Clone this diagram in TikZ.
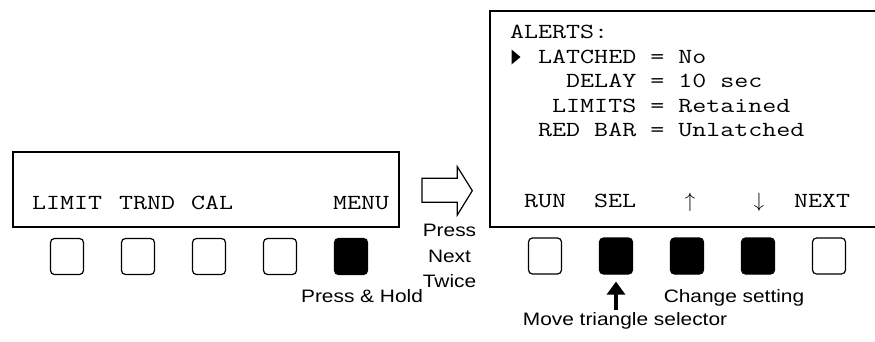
\documentclass[tikz,border=0pt]{standalone}
\usepackage{fontspec}
\setmainfont{Liberation Sans}
\setmonofont{Latin Modern Mono}[FakeStretch=1.265]
\newfontfamily\notefont[FakeStretch=1.16]{Liberation Sans}
\usetikzlibrary{arrows.meta}

\tikzset{
  lcd/.style={line width=2pt},
  key/.style={draw, line width=1.2pt, rounded corners=4pt, minimum width=33pt, minimum height=36pt, inner sep=0pt},
  keyon/.style={key, fill=black},
  lcdtext/.style={font=\fontsize{21.5}{24}\selectfont\ttfamily, inner sep=0pt, anchor=base west},
  note/.style={font=\fontsize{18}{25.5}\selectfont\notefont, inner sep=0pt, align=center},
}

\begin{document}
\begin{tikzpicture}[x=1pt, y=-1pt]
    \useasboundingbox (0,0) rectangle (875,341);

    % left display and keys
    \draw[lcd] (13,152) rectangle (399,227);
    \node[lcdtext] (limit) at (32,209) {LIMIT};
    \node[lcdtext] (trnd) at (119,209) {TRND};
    \node[lcdtext] (cal) at (191,209) {CAL};
    \node[lcdtext] (menu) at (333,209) {MENU};
    \foreach \i/\x in {1/67, 2/138, 3/209, 4/280}
        \node[key] (lkey\i) at (\x,256.5) {};
    \node[keyon] (lkey5) at (351,256.5) {};
    \node[note, anchor=base] (hold) at (362,302.7) {Press \& Hold};

    % go to the alerts screen
    \draw[line width=1.2pt] (422,178.3) -- (457.3,178.3) -- (457.3,166.7) -- (472.3,190.7)
        -- (457.3,215) -- (457.3,202.3) -- (422,202.3) -- cycle;
    \node[note, anchor=north] (twice) at (449.5,224.2) {Press\\Next\\Twice};

    % right display and keys
    \draw[lcd] (876,11) -- (490,11) -- (490,226.5) -- (876,226.5);
    \node[lcdtext] (alerts) at (510,38) {ALERTS:};
    \fill (511.5,49.5) -- (520.5,57) -- (511.5,64.5) -- cycle;
    \node[lcdtext] (latched) at (510,63) {\phantom{XX}LATCHED = No};
    \node[lcdtext] (delay) at (510,87.5) {\phantom{XXXX}DELAY = 10 sec};
    \node[lcdtext] (limits) at (510,112) {\phantom{XXX}LIMITS = Retained};
    \node[lcdtext] (redbar) at (510,136.5) {\phantom{XX}RED BAR = Unlatched};
    \node[lcdtext] (run) at (524,207) {RUN};
    \node[lcdtext] (sel) at (594,207) {SEL};
    \node[lcdtext, anchor=base] (up) at (690,207) {$\uparrow$};
    \node[lcdtext, anchor=base] (down) at (759,207) {$\downarrow$};
    \node[lcdtext] (next) at (794,207) {NEXT};
    \node[key] (rkey1) at (545,256) {};
    \foreach \i/\x in {2/616, 3/687, 4/758}
        \node[keyon] (rkey\i) at (\x,256) {};
    \node[key] (rkey5) at (829,256) {};
    \node[note, anchor=base] (change) at (734,302.7) {Change setting};
    \node[note, anchor=base] (move) at (625,325.7) {Move triangle selector};
    \draw[line width=3.5pt, -{Triangle[length=13pt, width=18pt]}, shorten <=2pt, shorten >=7pt]
        (move.north -| rkey2) -- (rkey2.south);
\end{tikzpicture}
\end{document}
